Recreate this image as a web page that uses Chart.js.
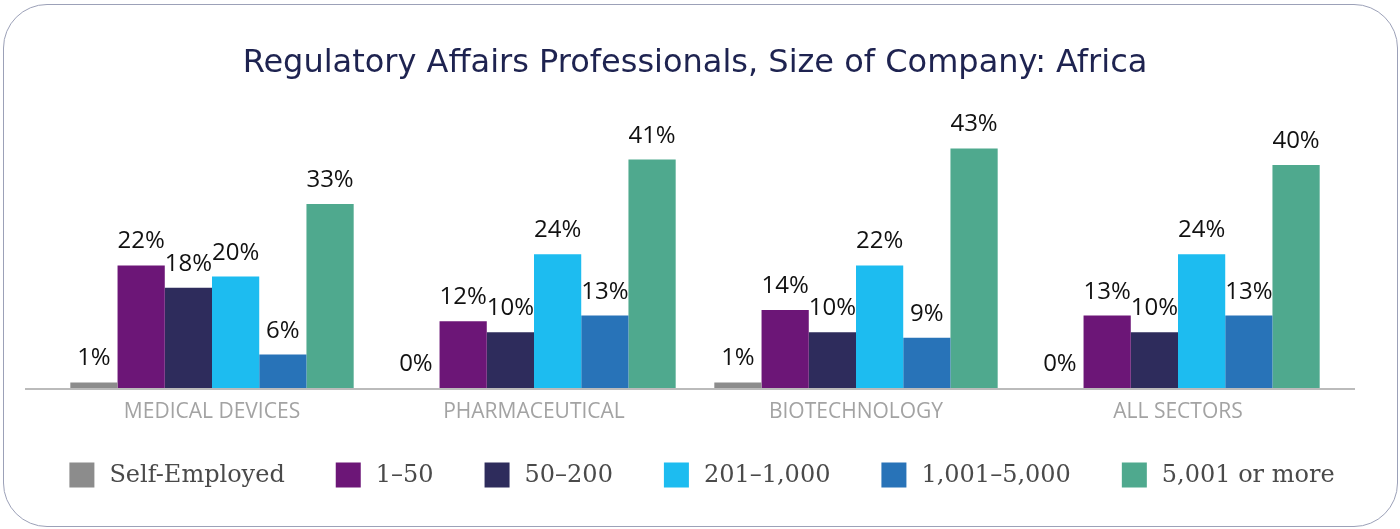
<!DOCTYPE html>
<html>
<head>
<meta charset="utf-8">
<script src="https://cdn.jsdelivr.net/npm/chart.js@4/dist/chart.umd.min.js"></script>
<style>
  html, body { margin: 0; padding: 0; background: #fff; }
  #frame {
    position: absolute; left: 3px; top: 4px; width: 1393px; height: 521px;
    border: 1px solid #9ca1b8; border-radius: 44px;
  }
  #wrap { position: absolute; left: 0; top: 0; width: 1400px; height: 529px; }
</style>
</head>
<body>
<div id="frame"></div>
<div id="wrap"><canvas id="company-chart" width="1400" height="529"></canvas></div>
<script>
  const sectors = ['MEDICAL DEVICES', 'PHARMACEUTICAL', 'BIOTECHNOLOGY', 'ALL SECTORS'];
  const sizeLabels = ['Self-Employed', '1–50', '50–200', '201–1,000', '1,001–5,000', '5,001 or more'];
  const selfEmployed = [1, 0, 1, 0];
  const size1to50 = [22, 12, 14, 13];
  const size50to200 = [18, 10, 10, 10];
  const size201to1000 = [20, 24, 22, 24];
  const size1001to5000 = [6, 13, 9, 13];
  const size5001plus = [33, 41, 43, 40];
  const sizeColors = ['#8c8c8c', '#6c1677', '#2e2c5c', '#1dbcf0', '#2873b8', '#4fa98e'];

  const seriesValues = [selfEmployed, size1to50, size50to200, size201to1000, size1001to5000, size5001plus];

  // baseline runs a little past the bar groups on both sides
  const baseLine = {
    id: 'baseLine',
    beforeDatasetsDraw(chart) {
      const { ctx, chartArea } = chart;
      ctx.save();
      ctx.strokeStyle = '#bbbbbb';
      ctx.lineWidth = 2;
      ctx.beginPath();
      ctx.moveTo(chartArea.left - 26, chartArea.bottom + 1);
      ctx.lineTo(chartArea.right + 16, chartArea.bottom + 1);
      ctx.stroke();
      ctx.restore();
    }
  };

  // % labels above each bar
  const valueLabels = {
    id: 'valueLabels',
    afterDatasetsDraw(chart) {
      const ctx = chart.ctx;
      ctx.save();
      ctx.font = '400 24px "Open Sans", sans-serif';
      ctx.fillStyle = '#111';
      ctx.textAlign = 'center';
      ctx.textBaseline = 'alphabetic';
      chart.data.datasets.forEach((ds, i) => {
        const meta = chart.getDatasetMeta(i);
        meta.data.forEach((bar, j) => {
          ctx.fillText(ds.data[j] + '%', bar.x, bar.y - 17);
        });
      });
      ctx.restore();
    }
  };

  // legend row under the axis, wider item spacing than the built-in legend allows
  const bottomLegend = {
    id: 'bottomLegend',
    afterDraw(chart) {
      const ctx = chart.ctx;
      const box = 25, textGap = 15, itemGap = 51;
      ctx.save();
      ctx.font = '24px "DejaVu Serif", serif';
      const items = chart.data.datasets.map(ds => ({
        text: ds.label,
        color: ds.backgroundColor,
        w: ctx.measureText(ds.label).width
      }));
      const total = items.reduce((s, it) => s + box + textGap + it.w, 0) + itemGap * (items.length - 1);
      let x = (chart.width - total) / 2 + 2;
      const y = chart.chartArea.bottom + 87;
      ctx.textBaseline = 'middle';
      ctx.textAlign = 'left';
      items.forEach(it => {
        ctx.fillStyle = it.color;
        ctx.fillRect(x, y - box / 2, box, box);
        ctx.fillStyle = '#4a4a4a';
        ctx.fillText(it.text, x + box + textGap, y + 1);
        x += box + textGap + it.w + itemGap;
      });
      ctx.restore();
    }
  };

  const ctx = document.getElementById('company-chart').getContext('2d');
  const companyChart = new Chart(ctx, {
    type: 'bar',
    data: {
      labels: sectors,
      datasets: seriesValues.map((vals, i) => ({
        label: sizeLabels[i],
        data: vals,
        backgroundColor: sizeColors[i],
        borderWidth: 0,
        barPercentage: 1,
        categoryPercentage: 0.88
      }))
    },
    options: {
      responsive: false,
      animation: false,
      layout: { padding: { left: 51, right: 61, top: 10, bottom: 101 } },
      plugins: {
        title: {
          display: true,
          text: 'Regulatory Affairs Professionals, Size of Company: Africa',
          color: '#1e2350',
          font: { family: '"DejaVu Sans", sans-serif', size: 32, weight: 'normal' },
          padding: { top: 34, bottom: 27 }
        },
        legend: { display: false },
        tooltip: { enabled: false }
      },
      scales: {
        x: {
          grid: { display: false },
          border: { display: false },
          ticks: {
            color: '#a3a3a3',
            padding: 3,
            font: { family: '"Open Sans", sans-serif', size: 21, weight: '400' }
          },
          afterFit: (scale) => { scale.height = 40; }
        },
        y: {
          display: false,
          min: 0,
          max: 50
        }
      }
    },
    plugins: [baseLine, valueLabels, bottomLegend]
  });
</script>
</body>
</html>
